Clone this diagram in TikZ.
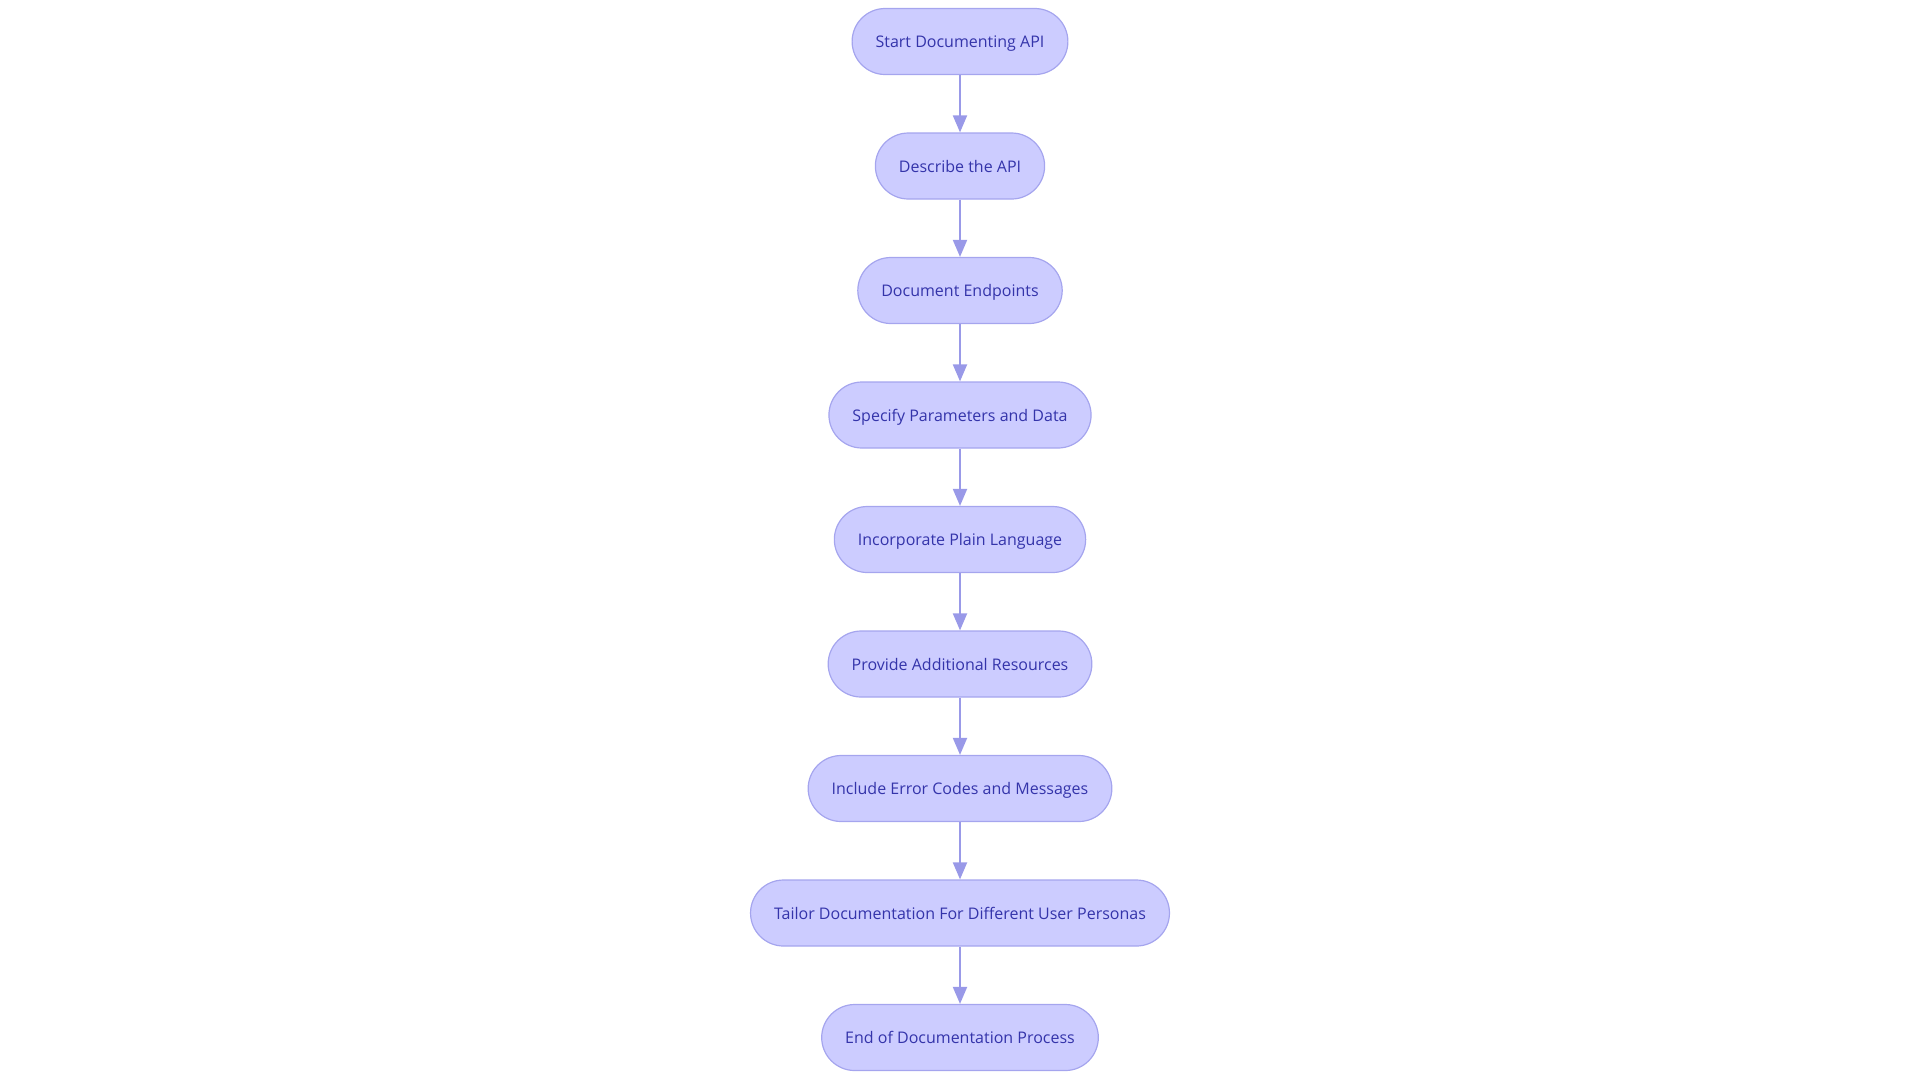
\documentclass[tikz,border=0pt]{standalone}
\usepackage{fontspec}
\setmainfont{Open Sans}
\usetikzlibrary{arrows.meta}
\definecolor{nodefill}{RGB}{204,204,255}
\definecolor{nodeline}{RGB}{165,165,238}
\definecolor{edgecol}{RGB}{153,153,232}
\definecolor{txtcol}{RGB}{52,52,170}
\tikzset{
  stepbox/.style={draw=nodeline, fill=nodefill, line width=1.2pt,
    rounded corners=33pt, minimum height=66pt, inner xsep=23.5pt, inner ysep=0pt,
    text height=14pt, text depth=1.6pt,
    text=txtcol, font=\fontsize{16pt}{19pt}\selectfont},
  flow/.style={draw=edgecol, line width=2pt,
    -{Triangle[length=17pt,width=14pt]}}
}
\begin{document}
\begin{tikzpicture}[x=1pt,y=-1pt]
\useasboundingbox (0,0) rectangle (1920,1080);
\node[stepbox] (n1) at (960,41.5) {Start Documenting API};
\node[stepbox] (n2) at (960,166) {Describe the API};
\node[stepbox] (n3) at (960,290.5) {Document Endpoints};
\node[stepbox] (n4) at (960,415) {Specify Parameters and Data};
\node[stepbox] (n5) at (960,539.5) {Incorporate Plain Language};
\node[stepbox] (n6) at (960,664) {Provide Additional Resources};
\node[stepbox] (n7) at (960,788.5) {Include Error Codes and Messages};
\node[stepbox] (n8) at (960,913) {Tailor Documentation For Different User Personas};
\node[stepbox] (n9) at (960,1037.5) {End of Documentation Process};
\foreach \a/\b in {n1/n2,n2/n3,n3/n4,n4/n5,n5/n6,n6/n7,n7/n8,n8/n9}
  \draw[flow] (\a) -- (\b);
\end{tikzpicture}
\end{document}
